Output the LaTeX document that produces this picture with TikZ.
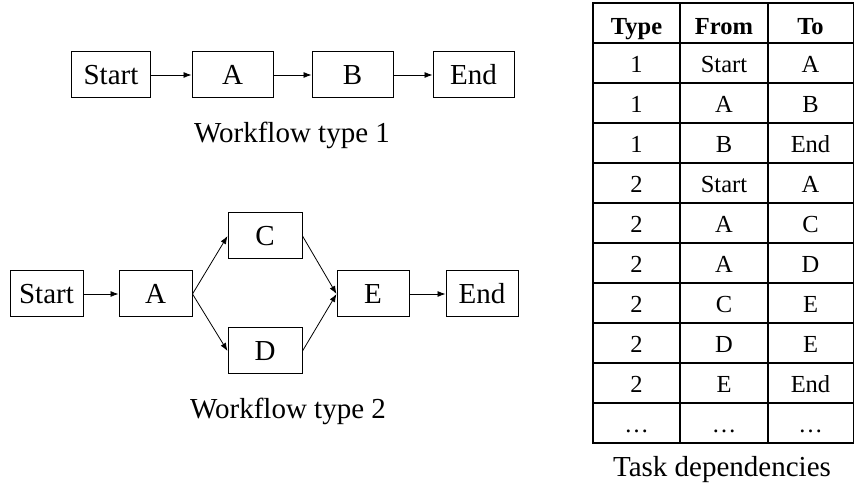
\documentclass[tikz,border=0pt]{standalone}
\usepackage{fontspec}
\setmainfont{Liberation Serif}
\usetikzlibrary{arrows.meta}
\begin{document}
\begin{tikzpicture}[x=1pt,y=-1pt,
  box/.style={draw, line width=1pt, minimum height=46pt, inner sep=0pt,
              font=\fontsize{29}{34}\selectfont},
  arr/.style={-{Latex[length=8pt,width=6pt]}, line width=0.8pt},
  caption/.style={anchor=base, inner sep=0pt, font=\fontsize{29}{34}\selectfont},
  cell/.style={anchor=base, inner sep=0pt, font=\fontsize{24.5}{28}\selectfont},
  head/.style={cell, font=\fontsize{24.5}{28}\selectfont\bfseries}]
\useasboundingbox (0,0) rectangle (855,486);

% Workflow type 1
\node[box, minimum width=79pt] (s1) at (111,75) {Start};
\node[box, minimum width=81pt] (a1) at (232.5,75) {A};
\node[box, minimum width=81pt] (b1) at (352.5,75) {B};
\node[box, minimum width=81pt] (e1) at (473.5,75) {End};
\draw[arr] (s1) -- (a1);
\draw[arr] (a1) -- (b1);
\draw[arr] (b1) -- (e1);
\node[caption] (cap1) at (292,143) {Workflow type 1};

% Workflow type 2
\node[box, minimum width=73pt] (s2) at (46.5,294) {Start};
\node[box, minimum width=73pt] (a2) at (155.5,294) {A};
\node[box, minimum width=74pt] (c2) at (265,236) {C};
\node[box, minimum width=74pt] (d2) at (265,351) {D};
\node[box, minimum width=72pt] (x2) at (373,294) {E};
\node[box, minimum width=72pt] (e2) at (482,294) {End};
\draw[arr] (s2) -- (a2);
\draw[arr] (a2.east) -- (c2.west);
\draw[arr] (a2.east) -- (d2.west);
\draw[arr] (c2.east) -- (x2.west);
\draw[arr] (d2.east) -- (x2.west);
\draw[arr] (x2) -- (e2);
\node[caption] (cap2) at (288,419) {Workflow type 2};

% Task dependency table
\draw[line width=1.2pt] (593,3) rectangle (853.5,443);
\draw[line width=1.2pt] (680,3) -- (680,443) (768,3) -- (768,443);
\foreach \k in {0,...,9} \draw[line width=1.2pt] (593,43+40*\k) -- (853.5,43+40*\k);
\node[head] (hT) at (636.5,35) {Type};
\node[head] (hF) at (724,35) {From};
\node[head] (hO) at (810.5,35) {To};
\foreach \t/\f/\o [count=\i] in {1/Start/A, 1/A/B, 1/B/End, 2/Start/A, 2/A/C,
    2/A/D, 2/C/E, 2/D/E, 2/E/End, …/…/…} {
  \node[cell] (t\i) at (636.5,33+40*\i) {\t};
  \node[cell] (f\i) at (724,33+40*\i) {\f};
  \node[cell] (o\i) at (810.5,33+40*\i) {\o};
}
\node[caption] (cap3) at (722,477) {Task dependencies};
\end{tikzpicture}
\end{document}
